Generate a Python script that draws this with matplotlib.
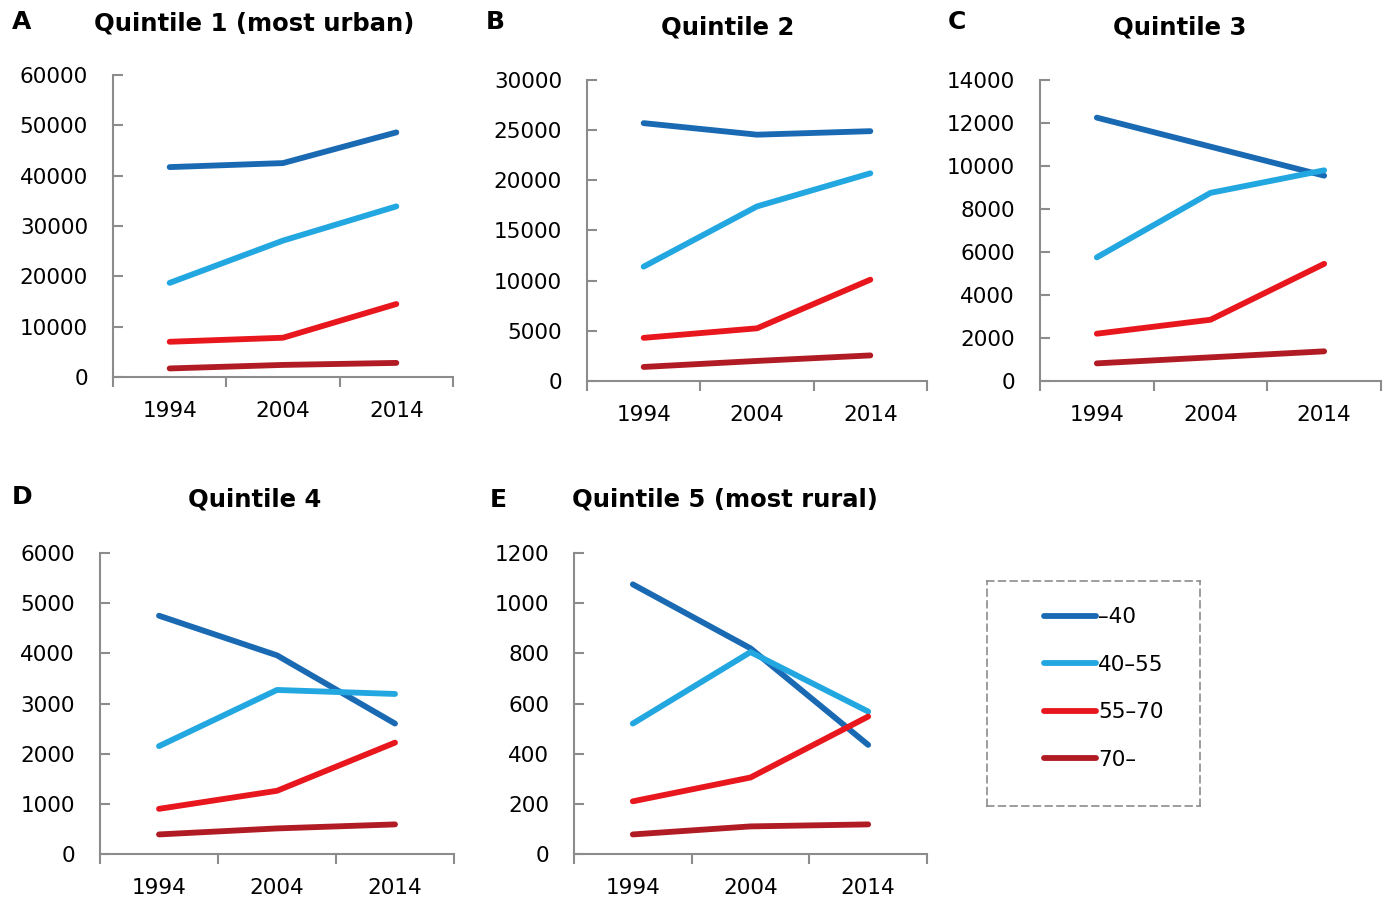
import matplotlib
matplotlib.use("Agg")
import matplotlib.pyplot as plt
from matplotlib.ticker import MultipleLocator

plt.rcParams['font.family'] = ['DejaVu Sans']

years = ['1994', '2004', '2014']
groups = ['\u201340', '40\u201355', '55\u201370', '70\u2013']
colors = ['#1a6ab3', '#22a7e0', '#e8171e', '#b01b24']

# Quintile 1 (most urban)
q1_lt40 = [41700, 42500, 48600]
q1_40_55 = [18700, 27100, 33900]
q1_55_70 = [7000, 7800, 14500]
q1_70p = [1700, 2400, 2800]
# Quintile 2
q2_lt40 = [25700, 24550, 24900]
q2_40_55 = [11400, 17400, 20700]
q2_55_70 = [4300, 5250, 10100]
q2_70p = [1400, 2000, 2550]
# Quintile 3
q3_lt40 = [12250, 10900, 9550]
q3_40_55 = [5750, 8750, 9800]
q3_55_70 = [2200, 2850, 5450]
q3_70p = [820, 1100, 1380]
# Quintile 4
q4_lt40 = [4750, 3960, 2600]
q4_40_55 = [2150, 3270, 3190]
q4_55_70 = [900, 1260, 2220]
q4_70p = [390, 510, 590]
# Quintile 5 (most rural)
q5_lt40 = [1075, 820, 435]
q5_40_55 = [520, 805, 568]
q5_55_70 = [210, 305, 548]
q5_70p = [78, 110, 118]

W, H = 1388, 901
fig = plt.figure(figsize=(W / 100, H / 100), dpi=100)


def px_axes(x0, x1, y0, y1):
    return fig.add_axes([x0 / W, (H - y1) / H, (x1 - x0) / W, (y1 - y0) / H])


panels = [
    ('A', 'Quintile 1 (most urban)', (113, 453, 75, 377), 60000, 10000,
     [q1_lt40, q1_40_55, q1_55_70, q1_70p], (12, 22), (254, 24)),
    ('B', 'Quintile 2', (587, 927, 80, 381), 30000, 5000,
     [q2_lt40, q2_40_55, q2_55_70, q2_70p], (486, 22), (728, 28)),
    ('C', 'Quintile 3', (1040, 1381, 80, 381), 14000, 2000,
     [q3_lt40, q3_40_55, q3_55_70, q3_70p], (948, 22), (1180, 28)),
    ('D', 'Quintile 4', (100, 454, 553, 854), 6000, 1000,
     [q4_lt40, q4_40_55, q4_55_70, q4_70p], (12, 497), (255, 500)),
    ('E', 'Quintile 5 (most rural)', (574, 927, 553, 854), 1200, 200,
     [q5_lt40, q5_40_55, q5_55_70, q5_70p], (490, 500), (725, 500)),
]

axis_gray = '#8c8c8c'
handles = []
for letter, title, box, ymax, step, series, lpos, tpos in panels:
    ax = px_axes(*box)
    for vals, c, g in zip(series, colors, groups):
        ln, = ax.plot(range(len(years)), vals, color=c, lw=4.2, label=g,
                      solid_capstyle='round', solid_joinstyle='round')
        if letter == 'E':
            handles.append(ln)
    ax.set_xlim(-0.5, len(years) - 0.5)
    ax.set_ylim(0, ymax)
    ax.yaxis.set_major_locator(MultipleLocator(step))
    ax.set_xticks([-0.5, 0.5, 1.5, 2.5])
    ax.set_xticklabels([])
    ax.set_xticks(range(len(years)), minor=True)
    ax.set_xticklabels(years, minor=True)
    for s in ['top', 'right']:
        ax.spines[s].set_visible(False)
    for s in ['left', 'bottom']:
        ax.spines[s].set_color(axis_gray)
        ax.spines[s].set_linewidth(1.5)
    ax.tick_params(axis='y', direction='in', length=7.5, width=1.5,
                   color=axis_gray, labelsize=15.5, pad=18)
    ax.tick_params(axis='x', which='major', direction='out', length=7.5,
                   width=1.5, color=axis_gray)
    ax.tick_params(axis='x', which='minor', length=0, labelsize=15.5, pad=17)
    ax.patch.set_alpha(0)
    fig.text(lpos[0] / W, 1 - lpos[1] / H, letter, fontsize=18,
             fontweight='bold', va='center', ha='left')
    fig.text(tpos[0] / W, 1 - tpos[1] / H, title, fontsize=17.5,
             fontweight='bold', va='center', ha='center')

# legend box with dashed border
lax = px_axes(987, 1200, 581, 806)
lax.set_xticks([])
lax.set_yticks([])
for s in lax.spines.values():
    s.set_linestyle((0, (4, 3)))
    s.set_color(axis_gray)
    s.set_linewidth(1.2)
lax.legend(handles=handles, loc='center', frameon=False, fontsize=15.5,
           handlelength=2.4, handletextpad=0.1, labelspacing=1.28,
           bbox_to_anchor=(0.55, 0.522))

fig.savefig('out.png', dpi=100)
